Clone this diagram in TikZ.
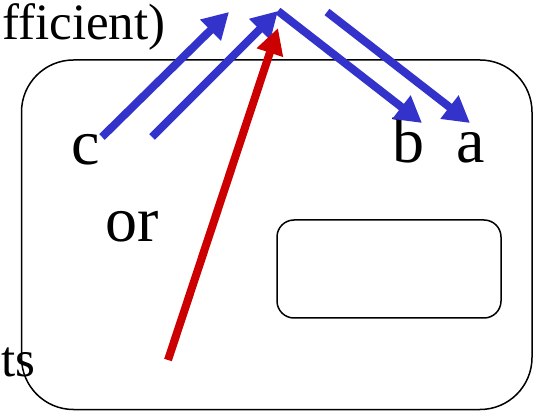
\documentclass[tikz,border=0pt]{standalone}
\usepackage{fontspec}
\setmainfont{Liberation Serif}
\usetikzlibrary{arrows.meta}
\definecolor{arrowblue}{HTML}{3333CC}
\definecolor{arrowred}{HTML}{CC0000}

\begin{document}
\begin{tikzpicture}[x=1pt, y=-1pt,
    frame/.style={draw, line width=1.5pt},
    big/.style={inner sep=0, font=\fontsize{64}{70}\selectfont},
    small/.style={inner sep=0, font=\fontsize{51}{60}\selectfont},
    blue arrow/.style={arrowblue, line width=8pt, -{Triangle[length=26pt,width=28pt]}},
    red arrow/.style={arrowred, line width=8pt, -{Triangle[length=26pt,width=26pt]}}]
    \useasboundingbox (0,0) rectangle (538,411);
    % boxes
    \draw[frame, rounded corners=52pt] (21.5,60) rectangle (532,409.5);
    \draw[frame, rounded corners=17pt] (277,220) rectangle (501,318);
    % labels
    \node[small, anchor=base west] (coef) at (2,40) {fficient)};
    \node[big, anchor=base west] (c) at (71,165) {c};
    \node[big, anchor=base west] (or) at (105,242) {or};
    \node[big, anchor=base west] (b) at (392,163) {b};
    \node[big, anchor=base west] (a) at (456,163) {a};
    \node[small, anchor=base west] (ts) at (1,377) {ts};
    % arrow ends
    \coordinate (c1) at (102,137);
    \coordinate (c2) at (229,12);
    \coordinate (d1) at (152,137);
    \coordinate (top) at (278,11);
    \coordinate (b1) at (422,123);
    \coordinate (a0) at (327,12);
    \coordinate (a1) at (470,123);
    \coordinate (r0) at (168,360);
    \coordinate (r1) at (278,28);
    \draw[blue arrow] (c1) -- (c2);
    \draw[blue arrow] (d1) -- (top);
    \draw[blue arrow] (top) -- (b1);
    \draw[blue arrow] (a0) -- (a1);
    \draw[red arrow] (r0) -- (r1);
\end{tikzpicture}
\end{document}
